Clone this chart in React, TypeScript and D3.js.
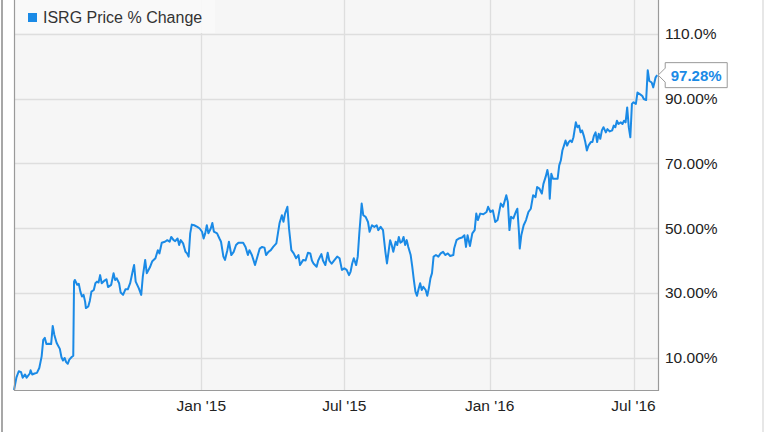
import React from "react";
import * as d3 from "d3";

// ISRG price % change
const priceChange: [string, number][] = [
  ["2014-05-09", 0], ["2014-05-12", 3.8], ["2014-05-15", 5.8], ["2014-05-18", 5.5], ["2014-05-20", 3.8],
  ["2014-05-23", 4.8], ["2014-05-25", 3.8], ["2014-05-29", 5.1], ["2014-05-30", 6.1], ["2014-06-01", 4.8],
  ["2014-06-04", 5.1], ["2014-06-07", 5.3], ["2014-06-10", 6.8], ["2014-06-13", 10.4], ["2014-06-15", 15.5],
  ["2014-06-17", 16.1], ["2014-06-19", 14.2], ["2014-06-22", 14.3], ["2014-06-25", 14.2], ["2014-06-27", 19.8],
  ["2014-06-29", 17.1], ["2014-07-02", 14.5], ["2014-07-06", 12.7], ["2014-07-08", 10.2], ["2014-07-10", 9.1],
  ["2014-07-12", 9.9], ["2014-07-14", 8.6], ["2014-07-16", 8.1], ["2014-07-18", 9.4], ["2014-07-21", 10.2],
  ["2014-07-23", 10.6], ["2014-07-24", 33.5], ["2014-07-25", 34.0], ["2014-07-28", 32.5], ["2014-07-30", 32.8],
  ["2014-08-01", 30.4], ["2014-08-03", 28.9], ["2014-08-05", 29.4], ["2014-08-07", 27.3], ["2014-08-08", 25.3],
  ["2014-08-11", 25.8], ["2014-08-13", 27.6], ["2014-08-15", 30.4], ["2014-08-18", 30.9], ["2014-08-20", 33.0],
  ["2014-08-22", 33.5], ["2014-08-24", 33.2], ["2014-08-26", 35.5], ["2014-08-28", 33.0], ["2014-08-31", 33.7],
  ["2014-09-03", 34.2], ["2014-09-05", 31.8], ["2014-09-09", 32.5], ["2014-09-12", 36.1], ["2014-09-14", 34.0],
  ["2014-09-16", 34.5], ["2014-09-19", 33.0], ["2014-09-21", 30.1], ["2014-09-24", 29.4], ["2014-09-27", 31.1],
  ["2014-09-30", 31.1], ["2014-10-03", 33.0], ["2014-10-07", 37.6], ["2014-10-08", 38.6], ["2014-10-10", 33.5],
  ["2014-10-14", 31.4], ["2014-10-17", 29.4], ["2014-10-19", 35.0], ["2014-10-22", 40.2], ["2014-10-24", 36.1],
  ["2014-10-28", 37.9], ["2014-10-31", 39.8], ["2014-11-04", 40.7], ["2014-11-07", 43.2], ["2014-11-09", 42.2],
  ["2014-11-12", 45.5], ["2014-11-16", 45.8], ["2014-11-19", 46.3], ["2014-11-22", 45.8], ["2014-11-24", 47.3],
  ["2014-11-27", 46.3], ["2014-11-29", 46.0], ["2014-12-02", 46.8], ["2014-12-04", 44.8], ["2014-12-06", 46.3],
  ["2014-12-09", 45.3], ["2014-12-12", 42.7], ["2014-12-14", 42.2], ["2014-12-16", 41.2], ["2014-12-18", 48.4],
  ["2014-12-20", 51.1], ["2014-12-23", 50.9], ["2014-12-27", 50.4], ["2014-12-30", 49.9], ["2015-01-02", 48.9],
  ["2015-01-04", 46.8], ["2015-01-06", 48.4], ["2015-01-08", 50.9], ["2015-01-10", 48.4], ["2015-01-13", 49.9],
  ["2015-01-15", 51.6], ["2015-01-17", 48.9], ["2015-01-21", 48.4], ["2015-01-24", 46.8], ["2015-01-26", 45.8],
  ["2015-01-29", 41.2], ["2015-01-31", 40.2], ["2015-02-03", 43.2], ["2015-02-05", 45.8], ["2015-02-08", 41.7],
  ["2015-02-11", 42.7], ["2015-02-14", 44.8], ["2015-02-17", 45.5], ["2015-02-23", 45.5], ["2015-02-26", 44.2],
  ["2015-03-01", 41.7], ["2015-03-03", 43.2], ["2015-03-06", 41.7], ["2015-03-08", 40.2], ["2015-03-10", 38.6],
  ["2015-03-13", 41.2], ["2015-03-16", 43.7], ["2015-03-19", 44.2], ["2015-03-22", 44.0], ["2015-03-24", 41.7],
  ["2015-03-27", 42.7], ["2015-03-30", 43.2], ["2015-04-02", 44.2], ["2015-04-06", 45.3], ["2015-04-08", 48.4],
  ["2015-04-10", 51.5], ["2015-04-13", 54.0], ["2015-04-15", 52.0], ["2015-04-17", 54.5], ["2015-04-20", 56.6],
  ["2015-04-22", 50.0], ["2015-04-25", 43.2], ["2015-04-28", 42.2], ["2015-05-01", 40.7], ["2015-05-04", 41.7],
  ["2015-05-06", 38.6], ["2015-05-10", 40.2], ["2015-05-13", 40.0], ["2015-05-16", 42.4], ["2015-05-19", 42.2],
  ["2015-05-21", 40.0], ["2015-05-23", 39.1], ["2015-05-27", 38.1], ["2015-05-29", 40.0], ["2015-06-02", 42.0],
  ["2015-06-04", 40.0], ["2015-06-07", 38.6], ["2015-06-10", 42.4], ["2015-06-12", 40.0], ["2015-06-15", 39.0],
  ["2015-06-18", 40.0], ["2015-06-22", 41.2], ["2015-06-25", 40.7], ["2015-06-28", 37.1], ["2015-07-01", 37.6],
  ["2015-07-04", 37.1], ["2015-07-07", 35.5], ["2015-07-09", 36.6], ["2015-07-11", 39.1], ["2015-07-13", 40.7],
  ["2015-07-16", 38.6], ["2015-07-18", 41.2], ["2015-07-20", 48.4], ["2015-07-23", 57.6], ["2015-07-25", 54.0],
  ["2015-07-28", 53.5], ["2015-07-31", 51.9], ["2015-08-02", 48.9], ["2015-08-05", 50.9], ["2015-08-08", 50.4],
  ["2015-08-11", 50.9], ["2015-08-13", 49.4], ["2015-08-16", 50.4], ["2015-08-19", 49.4], ["2015-08-22", 42.7],
  ["2015-08-24", 39.1], ["2015-08-26", 42.7], ["2015-08-28", 46.3], ["2015-08-30", 44.8], ["2015-09-01", 42.7],
  ["2015-09-04", 45.8], ["2015-09-06", 44.8], ["2015-09-08", 47.3], ["2015-09-10", 45.5], ["2015-09-12", 45.8],
  ["2015-09-14", 47.3], ["2015-09-16", 44.8], ["2015-09-18", 46.3], ["2015-09-20", 44.2], ["2015-09-23", 41.7],
  ["2015-09-25", 38.1], ["2015-09-27", 34.0], ["2015-09-29", 30.4], ["2015-10-01", 29.1], ["2015-10-03", 31.2],
  ["2015-10-05", 33.0], ["2015-10-07", 30.9], ["2015-10-09", 31.9], ["2015-10-12", 30.9], ["2015-10-14", 29.1],
  ["2015-10-16", 31.4], ["2015-10-18", 34.5], ["2015-10-20", 36.1], ["2015-10-22", 41.2], ["2015-10-25", 41.7],
  ["2015-10-28", 41.2], ["2015-10-31", 42.2], ["2015-11-03", 42.7], ["2015-11-06", 41.7], ["2015-11-09", 42.2],
  ["2015-11-12", 41.4], ["2015-11-16", 41.7], ["2015-11-17", 43.7], ["2015-11-20", 46.3], ["2015-11-23", 46.8],
  ["2015-11-27", 47.1], ["2015-11-30", 47.8], ["2015-12-02", 44.2], ["2015-12-04", 47.8], ["2015-12-07", 44.5],
  ["2015-12-10", 48.4], ["2015-12-13", 49.4], ["2015-12-15", 54.5], ["2015-12-17", 52.5], ["2015-12-20", 54.5],
  ["2015-12-24", 54.3], ["2015-12-28", 55.0], ["2015-12-30", 56.6], ["2016-01-02", 55.0], ["2016-01-05", 55.5],
  ["2016-01-08", 51.9], ["2016-01-11", 52.5], ["2016-01-15", 57.6], ["2016-01-18", 56.6], ["2016-01-22", 60.2],
  ["2016-01-24", 58.1], ["2016-01-26", 49.4], ["2016-01-28", 53.5], ["2016-01-31", 53.0], ["2016-02-03", 55.0],
  ["2016-02-05", 56.0], ["2016-02-07", 48.9], ["2016-02-08", 43.7], ["2016-02-10", 47.8], ["2016-02-13", 50.9],
  ["2016-02-16", 52.5], ["2016-02-19", 55.0], ["2016-02-22", 56.0], ["2016-02-25", 60.2], ["2016-02-28", 59.6],
  ["2016-03-01", 62.7], ["2016-03-04", 62.2], ["2016-03-07", 60.7], ["2016-03-09", 63.7], ["2016-03-12", 66.0],
  ["2016-03-14", 68.0], ["2016-03-16", 65.3], ["2016-03-17", 59.1], ["2016-03-19", 66.8], ["2016-03-21", 65.3],
  ["2016-03-24", 65.3], ["2016-03-27", 65.3], ["2016-03-29", 69.4], ["2016-03-31", 70.9], ["2016-04-02", 74.0],
  ["2016-04-04", 75.5], ["2016-04-06", 77.1], ["2016-04-08", 75.5], ["2016-04-10", 76.6], ["2016-04-12", 77.1],
  ["2016-04-14", 76.6], ["2016-04-16", 78.1], ["2016-04-19", 82.7], ["2016-04-21", 81.2], ["2016-04-23", 81.7],
  ["2016-04-25", 79.6], ["2016-04-27", 80.2], ["2016-04-29", 78.6], ["2016-05-01", 76.6], ["2016-05-03", 74.0],
  ["2016-05-05", 75.5], ["2016-05-08", 76.6], ["2016-05-10", 76.6], ["2016-05-12", 78.6], ["2016-05-14", 79.6],
  ["2016-05-16", 76.6], ["2016-05-18", 79.2], ["2016-05-20", 77.6], ["2016-05-22", 80.2], ["2016-05-24", 81.2],
  ["2016-05-27", 79.6], ["2016-05-29", 80.6], ["2016-06-01", 79.9], ["2016-06-04", 80.2], ["2016-06-06", 81.7],
  ["2016-06-08", 81.2], ["2016-06-10", 83.2], ["2016-06-12", 82.2], ["2016-06-15", 82.7], ["2016-06-17", 82.2],
  ["2016-06-19", 83.2], ["2016-06-21", 82.7], ["2016-06-23", 87.3], ["2016-06-25", 81.2], ["2016-06-27", 78.1],
  ["2016-06-29", 88.4], ["2016-07-01", 88.9], ["2016-07-04", 88.4], ["2016-07-06", 91.9], ["2016-07-09", 91.4],
  ["2016-07-12", 90.9], ["2016-07-14", 89.9], ["2016-07-17", 89.6], ["2016-07-19", 98.8], ["2016-07-21", 95.5],
  ["2016-07-24", 95.0], ["2016-07-26", 93.5], ["2016-07-29", 96.6], ["2016-07-31", 97.28],
];

const seriesName = "ISRG Price % Change";
const lastLabel = "97.28%";
const yTicks = [10, 30, 50, 70, 90, 110];
const yTickLabels = ["10.00%", "30.00%", "50.00%", "70.00%", "90.00%", "110.0%"];
const xTicks = ["2015-01-01", "2015-07-01", "2016-01-01", "2016-07-01"];
const xTickLabels = ["Jan '15", "Jul '15", "Jan '16", "Jul '16"];
const xDomain = ["2014-05-09", "2016-08-01"];
const yDomain = [0, 120.5];

const W = 764;
const H = 432;
const left = 14;
const right = 658;
const top = 0;
const bottom = 390;
const blue = "#1a8ae6";
const font = "'Liberation Sans', Arial, sans-serif";

const parse = d3.utcParse("%Y-%m-%d");

export default function App() {
  const x = d3.scaleUtc().domain(xDomain.map(d => parse(d)!)).range([left, right]);
  const y = d3.scaleLinear().domain(yDomain).range([bottom, top]);
  const line = d3.line<[string, number]>()
    .x(d => x(parse(d[0])!))
    .y(d => y(d[1]));

  const last = priceChange[priceChange.length - 1];
  const ly = y(last[1]);
  const lx = x(parse(last[0])!) + 1;

  return (
    <svg width={W} height={H} style={{ position: "absolute", left: 0, top: 0, background: "#fff" }} fontFamily={font}>
      <rect x={left} y={top} width={right - left} height={bottom - top} fill="#f6f6f6" />
      {yTicks.map(t => (
        <line key={t} x1={left} x2={right} y1={Math.round(y(t)) + 0.5} y2={Math.round(y(t)) + 0.5} stroke="#dedede" strokeWidth={1.3} />
      ))}
      {xTicks.map(t => (
        <line key={t} x1={Math.round(x(parse(t)!)) + 0.5} x2={Math.round(x(parse(t)!)) + 0.5} y1={top} y2={bottom} stroke="#dedede" strokeWidth={1.3} />
      ))}
      <rect x={left} y={top} width={201} height={33} fill="#fafafa" opacity={0.9} />
      <rect x={28} y={13} width={9} height={9} fill={blue} />
      <text x={43} y={23} fontSize={16} fill="#333">{seriesName}</text>
      <path d={line(priceChange) ?? ""} fill="none" stroke={blue} strokeWidth={2} strokeLinejoin="round" />
      <path d={`M${left + 0.5},${top}V${bottom + 0.5}H${right + 0.5}V${top}`} fill="none" stroke="#9a9a9a" strokeWidth={1.2} />
      <line x1={2} x2={2} y1={0} y2={H} stroke="#8a8a8a" strokeWidth={1.5} />
      <line x1={763} x2={763} y1={0} y2={H} stroke="#cfcfcf" strokeWidth={1} />
      {yTicks.map((t, i) => (
        <text key={t} x={665} y={y(t) + 5.5} fontSize={15.5} fill="#222">{yTickLabels[i]}</text>
      ))}
      {xTicks.map((t, i) => (
        <text key={t} x={x(parse(t)!)} y={410.5} fontSize={15.5} fill="#222" textAnchor="middle">{xTickLabels[i]}</text>
      ))}
      <path d={`M${lx},${ly}L${lx + 7},${ly - 7}V${ly - 12.5}H${lx + 69}V${ly + 12.5}H${lx + 7}V${ly + 7}Z`}
        fill="#fff" stroke="#999" strokeWidth={1} />
      <text x={lx + 38} y={ly + 5.5} fontSize={15} fontWeight="bold" fill={blue} textAnchor="middle">{lastLabel}</text>
    </svg>
  );
}
